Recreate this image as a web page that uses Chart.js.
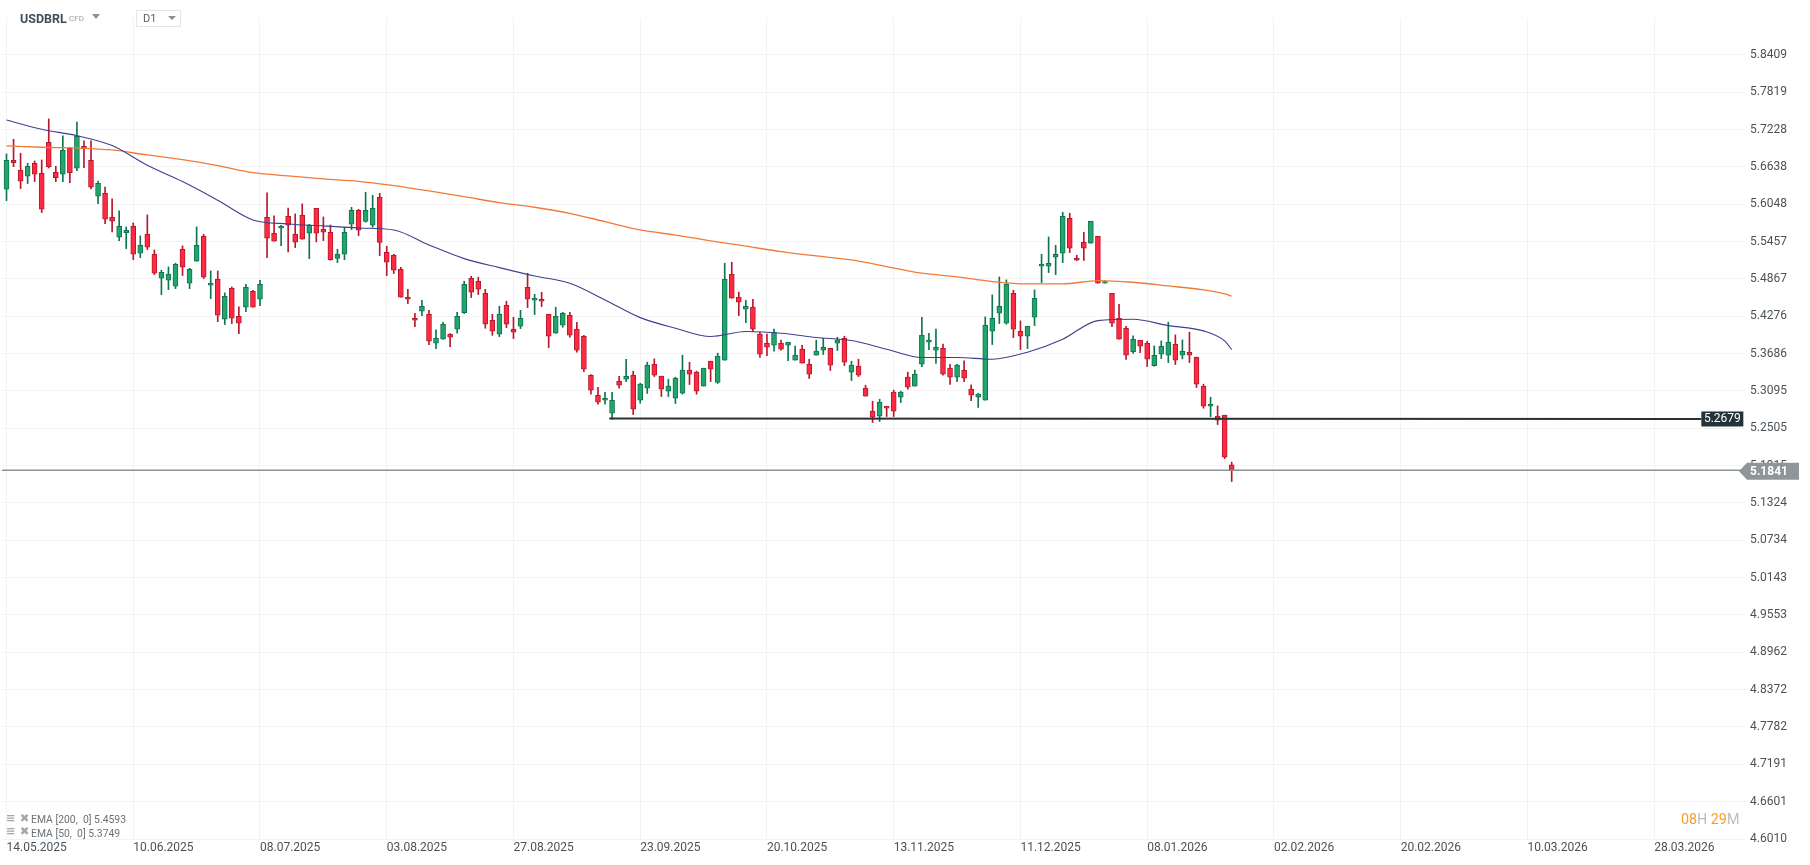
<!DOCTYPE html>
<html>
<head>
<meta charset="utf-8">
<title>USDBRL</title>
<script src="https://cdn.jsdelivr.net/npm/chart.js@4"></script>
<style>
  html, body { margin: 0; padding: 0; background: #fff; overflow: hidden; }
  #wrap { position: relative; width: 1810px; height: 865px; font-family: Roboto, sans-serif; }
  #chart { position: absolute; left: 0; top: 0; }
  .abs { position: absolute; white-space: pre; }
  #symbol { left: 20px; top: 11px; font-size: 12.5px; font-weight: 700; color: #3d4f5c; }
  #cfd { left: 69px; top: 14px; font-size: 8px; color: #9aa1a6; }
  #arrow1 { left: 92px; top: 14px; width: 0; height: 0; border-left: 4px solid transparent; border-right: 4px solid transparent; border-top: 5px solid #8a9094; }
  #tf { left: 136px; top: 10px; width: 43px; height: 15px; border: 1px solid #e3e5e7; box-sizing: content-box; font-size: 11px; line-height: 15px; color: #5a6368; text-indent: 6px; }
  #arrow2 { left: 168px; top: 16px; width: 0; height: 0; border-left: 4px solid transparent; border-right: 4px solid transparent; border-top: 4px solid #8a9094; }
  .ema { left: 31px; font-size: 10.4px; color: #6d7276; }
  .emaIcon { left: 6px; font-size: 11.5px; font-weight: 700; color: #a3a7aa; font-family: "DejaVu Sans", sans-serif; }
  #timer { left: 1681px; top: 811px; font-size: 14.3px; color: #b9bdc0; }
  #timer b { font-weight: 400; color: #ff9a1f; }
</style>
</head>
<body>
<div id="wrap">
  <canvas id="chart" width="1810" height="865"></canvas>
  <div class="abs" id="symbol">USDBRL</div>
  <div class="abs" id="cfd">CFD</div>
  <div class="abs" id="arrow1"></div>
  <div class="abs" id="tf">D1</div>
  <div class="abs" id="arrow2"></div>
  <div class="abs emaIcon" style="top:811px">≡ ✖</div>
  <div class="abs ema" style="top:813px">EMA [200,  0] 5.4593</div>
  <div class="abs emaIcon" style="top:824px">≡ ✖</div>
  <div class="abs ema" style="top:827px">EMA [50,  0] 5.3749</div>
  <div class="abs" id="timer"><b>08</b>H <b>29</b>M</div>
</div>
<script>
const dateLabels = ["14.05.2025","10.06.2025","08.07.2025","03.08.2025","27.08.2025","23.09.2025","20.10.2025","13.11.2025","11.12.2025","08.01.2026","02.02.2026","20.02.2026","10.03.2026","28.03.2026"];
const candlesPerDateTick = 18;

const priceTicks = [4.6010,4.6601,4.7191,4.7782,4.8372,4.8962,4.9553,5.0143,5.0734,5.1324,5.1915,5.2505,5.3095,5.3686,5.4276,5.4867,5.5457,5.6048,5.6638,5.7228,5.7819,5.8409];

const candleOpen = [
  5.6285,5.6743,5.6585,5.6490,5.6696,5.6537,5.7028,5.6553,5.6522,5.6933,
  5.6617,5.6964,5.6743,5.6174,5.6221,5.5842,5.5526,5.5599,5.5700,5.5273,
  5.5573,5.5257,5.4877,5.4846,5.4751,5.5336,5.4798,5.5146,5.5541,5.4767,
  5.4862,5.4229,5.4719,5.4277,5.4419,5.4672,5.4545,5.5842,5.5589,5.5668,
  5.5858,5.5573,5.5873,5.5589,5.5984,5.5652,5.5605,5.5193,5.5257,5.5731,
  5.5952,5.5778,5.5715,5.6158,5.5288,5.5241,5.5020,5.4577,5.4245,5.4356,
  5.4308,5.3850,5.3913,5.3992,5.4071,5.4334,5.4877,5.4830,5.4640,5.4213,
  5.3992,5.4450,5.4071,5.4118,5.4735,5.4529,5.4545,5.4308,5.4008,5.4134,
  5.4292,5.4071,5.3960,5.3344,5.3027,5.2948,5.2743,5.3249,5.3280,5.3344,
  5.2949,5.3139,5.3518,5.3329,5.3092,5.2981,5.3060,5.3424,5.3392,5.3171,
  5.3566,5.3229,5.3582,5.4941,5.4578,5.4388,5.4420,5.3993,5.3850,5.3819,
  5.3850,5.3819,5.3582,5.3756,5.3518,5.3661,5.3740,5.3771,5.3850,5.3929,
  5.3392,5.3487,5.3139,5.2775,5.2696,5.2854,5.3076,5.2997,5.3313,5.3171,
  5.3518,5.3866,5.3740,5.3771,5.3455,5.3313,5.3423,5.3123,5.2996,5.2949,
  5.4040,5.4324,5.4166,5.4640,5.4040,5.3961,5.4261,5.5067,5.5067,5.5210,
  5.5273,5.5826,5.5194,5.5447,5.5431,5.5542,5.4798,5.4640,5.4245,5.4087,
  5.3718,5.3897,5.3850,5.3497,5.3676,5.3660,5.3834,5.3660,5.3708,5.3629,
  5.3170,5.2854,5.2696,5.2712,5.1927
];
const candleHigh = [
  5.6843,5.7075,5.6854,5.6696,5.6732,5.6748,5.7397,5.6648,5.7128,5.6949,
  5.7349,5.7049,5.7049,5.6416,5.6321,5.6132,5.5942,5.5689,5.5752,5.5547,
  5.5879,5.5325,5.5004,5.5057,5.5115,5.5389,5.5036,5.5689,5.5573,5.4993,
  5.4993,5.4646,5.4740,5.4424,5.4783,5.4688,5.4846,5.6227,5.5863,5.5715,
  5.5989,5.5895,5.6053,5.5731,5.5984,5.5847,5.5720,5.5336,5.5684,5.6000,
  5.5968,5.6237,5.6189,5.6221,5.5383,5.5257,5.5051,5.4703,5.4324,5.4529,
  5.4371,5.4060,5.4182,5.4002,5.4340,5.4830,5.4909,5.4893,5.4703,5.4308,
  5.4435,5.4514,5.4261,5.4371,5.4956,5.4624,5.4656,5.4308,5.4419,5.4340,
  5.4340,5.4182,5.3976,5.3354,5.3154,5.3075,5.3075,5.3328,5.3597,5.3407,
  5.3218,5.3550,5.3603,5.3329,5.3281,5.3313,5.3661,5.3550,5.3408,5.3455,
  5.3566,5.3692,5.5115,5.5131,5.4657,5.4530,5.4546,5.4024,5.3993,5.4072,
  5.3898,5.3866,5.3803,5.3819,5.3597,5.3898,5.3929,5.3771,5.3945,5.3961,
  5.3566,5.3597,5.3186,5.2933,5.2965,5.2854,5.3107,5.3092,5.3392,5.3424,
  5.4261,5.4008,5.4072,5.3835,5.3518,5.3518,5.3571,5.3191,5.3059,5.4266,
  5.4614,5.4899,5.4851,5.4688,5.4203,5.4119,5.4693,5.5257,5.5531,5.5399,
  5.5921,5.5905,5.5241,5.5605,5.5779,5.5542,5.4835,5.4640,5.4466,5.4119,
  5.3966,5.3897,5.3882,5.3808,5.3887,5.4182,5.3982,5.3903,5.4024,5.3629,
  5.3202,5.2996,5.2859,5.2712,5.1970
];
const candleLow = [
  5.6105,5.6643,5.6295,5.6374,5.6406,5.5916,5.6622,5.6406,5.6406,5.6390,
  5.6580,5.6627,5.6290,5.6058,5.5742,5.5610,5.5473,5.5346,5.5173,5.5204,
  5.5331,5.4935,5.4619,5.4698,5.4714,5.4920,5.4714,5.5146,5.4872,5.4556,
  5.4192,5.4145,5.4161,5.4003,5.4350,5.4419,5.4445,5.5204,5.5462,5.5394,
  5.5294,5.5362,5.5494,5.5188,5.5452,5.5473,5.5162,5.5125,5.5172,5.5647,
  5.5552,5.5763,5.5684,5.5236,5.4919,5.4951,5.4577,5.4477,5.4113,5.4287,
  5.3829,5.3765,5.3913,5.3797,5.4008,5.4319,5.4572,5.4619,5.4087,5.3976,
  5.3955,5.4097,5.3923,5.4081,5.4413,5.4303,5.4429,5.3781,5.4008,5.4103,
  5.3944,5.3707,5.3402,5.3043,5.2885,5.2885,5.2648,5.3138,5.3244,5.2722,
  5.2902,5.3055,5.3323,5.3007,5.3007,5.2897,5.3044,5.3197,5.3044,5.3171,
  5.3244,5.3213,5.3582,5.4562,5.4288,5.4177,5.4035,5.3624,5.3655,5.3724,
  5.3740,5.3576,5.3582,5.3534,5.3292,5.3661,5.3671,5.3418,5.3734,5.3497,
  5.3260,5.3323,5.3012,5.2596,5.2612,5.2691,5.2691,5.2912,5.3123,5.3171,
  5.3481,5.3750,5.3529,5.3344,5.3197,5.3244,5.3244,5.2943,5.2833,5.2949,
  5.3829,5.4161,5.4150,5.3939,5.3750,5.3766,5.4129,5.4809,5.4967,5.4936,
  5.5125,5.5283,5.5157,5.5157,5.5431,5.4798,5.4798,5.4113,5.3913,5.3592,
  5.3687,5.3702,5.3481,5.3486,5.3607,5.3544,5.3513,5.3602,5.3544,5.3149,
  5.2822,5.2690,5.2564,5.2026,5.1663
];
const candleClose = [
  5.6743,5.6706,5.6411,5.6648,5.6522,5.5968,5.6643,5.6469,5.6901,5.6548,
  5.7122,5.6927,5.6316,5.6379,5.5810,5.5779,5.5700,5.5636,5.5257,5.5399,
  5.5368,5.4956,5.4972,5.4941,5.5099,5.5051,5.5020,5.5399,5.4893,5.4798,
  5.4292,5.4593,5.4245,5.4166,5.4735,5.4419,5.4783,5.5510,5.5462,5.5700,
  5.5715,5.5447,5.5494,5.5715,5.5589,5.5605,5.5172,5.5257,5.5605,5.5952,
  5.5636,5.5952,5.5984,5.5446,5.5130,5.5004,5.4577,5.4545,5.4213,5.4435,
  5.3881,5.3929,5.4150,5.3944,5.4276,5.4782,5.4656,5.4703,5.4150,5.4039,
  5.4308,5.4150,5.4024,5.4245,5.4545,5.4561,5.4514,5.3960,5.4276,5.4324,
  5.3976,5.3739,5.3439,5.3107,5.2917,5.2980,5.2948,5.3186,5.3328,5.2806,
  5.3202,5.3503,5.3344,5.3123,5.3171,5.3297,5.3424,5.3360,5.3092,5.3455,
  5.3439,5.3645,5.4862,5.4562,5.4499,5.4435,5.4072,5.3676,5.3787,5.4024,
  5.3756,5.3866,5.3661,5.3534,5.3360,5.3724,5.3787,5.3503,5.3898,5.3550,
  5.3503,5.3344,5.3012,5.2680,5.2918,5.2823,5.2775,5.3076,5.3155,5.3360,
  5.3977,5.3898,5.3787,5.3360,5.3313,5.3503,5.3297,5.3028,5.3044,5.4134,
  5.4245,5.4435,5.4783,5.4071,5.3961,5.4119,5.4561,5.5099,5.5115,5.5257,
  5.5858,5.5352,5.5162,5.5352,5.5779,5.4798,5.4825,5.4166,5.3913,5.3660,
  5.3913,5.3802,5.3597,5.3660,5.3802,5.3866,5.3581,5.3723,5.3660,5.3202,
  5.2854,5.2885,5.2633,5.2048,5.1841
];

// EMA readings, taken at these candle numbers
const emaCandles = [0,5,10,15,20,25,30,35,40,45,50,55,60,65,70,75,80,85,90,95,100,105,110,115,120,125,130,135,140,145,150,155,160,165,170,173,174];
const ema50 = [5.7381,5.7233,5.7133,5.6975,5.6664,5.6406,5.6111,5.5800,5.5736,5.5705,5.5673,5.5641,5.5404,5.5188,5.5046,5.4914,5.4798,5.4535,5.4255,5.4088,5.3956,5.4035,5.4008,5.3940,5.3893,5.3756,5.3624,5.3624,5.3597,5.3708,5.3913,5.4208,5.4229,5.4129,5.4045,5.3887,5.3749];
const ema200 = [5.6970,5.6949,5.6938,5.6906,5.6827,5.6754,5.6659,5.6548,5.6495,5.6448,5.6411,5.6342,5.6258,5.6168,5.6074,5.6000,5.5905,5.5773,5.5641,5.5560,5.5470,5.5385,5.5300,5.5231,5.5168,5.5062,5.4957,5.4899,5.4825,5.4788,5.4788,5.4841,5.4814,5.4756,5.4693,5.4630,5.4593];

// Drawn support level and the last price
const supportCandles = [85.6, 240.7];
const supportValues = [5.2660, 5.2652];
const supportLabel = "5.2679";
const lastPrice = 5.1841;

const GREEN = "#21a56b", GREEN_DARK = "#0f7550";
const RED = "#fd2a40", RED_DARK = "#b8182e";
const X_MIN = -0.64, X_MAX = 246.9;

const isUp = (i) => candleClose[i] >= candleOpen[i];

const wicks = candleHigh.map((h, i) => ({ x: i, y: [candleLow[i], h] }));
const bodies = candleOpen.map((o, i) => ({ x: i, y: [Math.min(o, candleClose[i]), Math.max(o, candleClose[i])] }));

/* Price tags on the right of the plot */
const priceTags = {
  id: "priceTags",
  afterDraw(c) {
    const ctx = c.ctx;
    const y = c.scales.y;
    const x = c.scales.x;
    ctx.save();
    ctx.textBaseline = "middle";

    // support tag
    const supY = y.getPixelForValue(supportValues[1]);
    const supX = x.getPixelForValue(supportCandles[1]);
    ctx.fillStyle = "#24333a";
    ctx.fillRect(supX, supY - 7.5, 42, 15);
    ctx.fillStyle = "#fff";
    ctx.font = "12px Roboto";
    ctx.textAlign = "center";
    ctx.fillText(supportLabel, supX + 21, supY + 0.5);

    // last price tag with its arrow
    const lastY = y.getPixelForValue(lastPrice) + 1;
    ctx.fillStyle = "#8d9699";
    ctx.beginPath();
    ctx.moveTo(1739, lastY);
    ctx.lineTo(1747, lastY - 8.5);
    ctx.lineTo(1799, lastY - 8.5);
    ctx.lineTo(1799, lastY + 8.5);
    ctx.lineTo(1747, lastY + 8.5);
    ctx.closePath();
    ctx.fill();
    ctx.fillStyle = "#fff";
    ctx.font = "bold 12px Roboto";
    ctx.textAlign = "left";
    ctx.fillText(lastPrice.toFixed(4), 1750, lastY + 0.5);
    ctx.restore();
  }
};

new Chart(document.getElementById("chart"), {
  type: "bar",
  data: {
    datasets: [
      {
        label: "High-Low",
        data: wicks,
        order: 5,
        barThickness: 1,
        grouped: false,
        backgroundColor: wicks.map((_, i) => isUp(i) ? GREEN_DARK : RED_DARK)
      },
      {
        label: "Open-Close",
        data: bodies,
        order: 4,
        barThickness: 5,
        grouped: false,
        borderWidth: 1,
        borderSkipped: false,
        backgroundColor: bodies.map((_, i) => isUp(i) ? GREEN : RED),
        borderColor: bodies.map((_, i) => isUp(i) ? GREEN_DARK : RED_DARK)
      },
      {
        type: "line",
        label: "EMA 200",
        data: emaCandles.map((c, i) => ({ x: c, y: ema200[i] })),
        order: 3,
        borderColor: "#f27a37",
        borderWidth: 1.3,
        cubicInterpolationMode: "monotone",
        pointRadius: 0
      },
      {
        type: "line",
        label: "EMA 50",
        data: emaCandles.map((c, i) => ({ x: c, y: ema50[i] })),
        order: 2,
        borderColor: "#3f3f8f",
        borderWidth: 1.1,
        cubicInterpolationMode: "monotone",
        pointRadius: 0
      },
      {
        type: "line",
        label: "Support",
        data: supportCandles.map((c, i) => ({ x: c, y: supportValues[i] })),
        order: 1,
        borderColor: "#263238",
        borderWidth: 2,
        pointRadius: 0
      },
      {
        type: "line",
        label: "Last price",
        data: [{ x: X_MIN, y: lastPrice }, { x: X_MAX, y: lastPrice }],
        order: 0,
        borderColor: "#8a9496",
        borderWidth: 1.3,
        pointRadius: 0
      }
    ]
  },
  options: {
    responsive: false,
    animation: false,
    layout: { padding: { left: 2, top: 18, right: 0, bottom: 0 } },
    plugins: { legend: { display: false }, tooltip: { enabled: false } },
    scales: {
      x: {
        type: "linear",
        offset: false,
        min: X_MIN,
        max: X_MAX,
        afterBuildTicks: (s) => { s.ticks = dateLabels.map((_, i) => ({ value: i * candlesPerDateTick })); },
        afterFit: (s) => { s.height = 26; },
        grid: { offset: false, color: "#f3f3f4", lineWidth: 1, drawTicks: false },
        border: { display: false },
        ticks: {
          autoSkip: false,
          maxRotation: 0,
          align: "start",
          padding: 2,
          color: "#4b5257",
          font: { family: "Roboto", size: 12 },
          callback: (v) => dateLabels[Math.round(v / candlesPerDateTick)]
        }
      },
      y: {
        position: "right",
        min: 4.6010,
        max: 5.8993,
        afterBuildTicks: (s) => { s.ticks = priceTicks.map((v) => ({ value: v })); },
        afterFit: (s) => { s.width = 65; },
        grid: { color: "#f3f3f4", lineWidth: 1, drawTicks: false },
        border: { display: false },
        ticks: {
          autoSkip: false,
          padding: 5,
          color: "#4b5257",
          font: { family: "Roboto", size: 12 },
          callback: (v) => v.toFixed(4)
        }
      }
    }
  },
  plugins: [priceTags]
});
</script>
</body>
</html>
